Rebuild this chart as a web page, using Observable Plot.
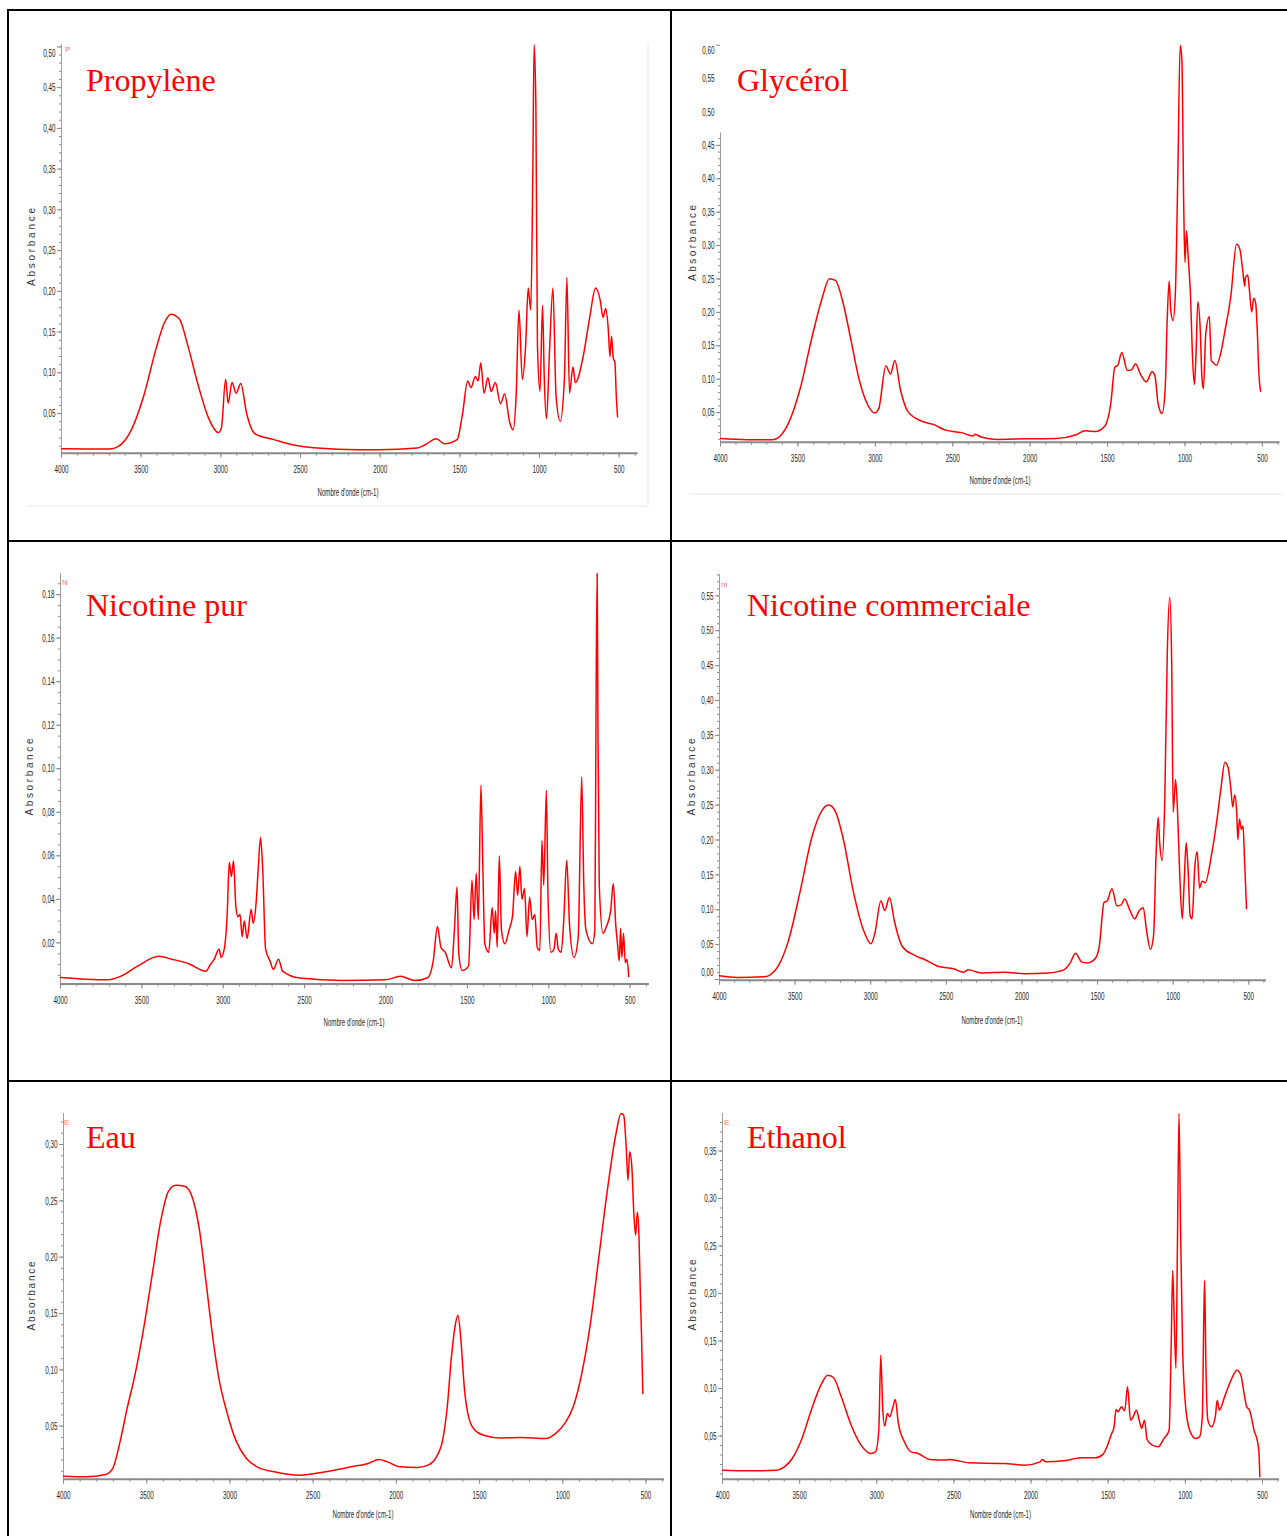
<!DOCTYPE html>
<html>
<head>
<meta charset="utf-8">
<script src="https://cdn.jsdelivr.net/npm/d3@7"></script>
<script src="https://cdn.jsdelivr.net/npm/@observablehq/plot@0.6"></script>
<style>
  html, body { margin: 0; padding: 0; background: #fff; }
  #page { position: relative; width: 1287px; height: 1536px; overflow: hidden; background: #fff; }
  #page svg.panel { position: absolute; }
  #overlay { position: absolute; left: 0; top: 0; pointer-events: none; }
</style>
</head>
<body>
<div id="page"></div>
<script>
// FTIR absorbance spectra: [wavenumber (cm-1), absorbance]
const propylene = [
  [4000,0.0068],[3850,0.0066],[3700,0.0065],[3643,0.0097],[3564,0.029],[3485,0.071],[3406,0.130],[3353,0.162],
  [3313,0.172],[3260,0.166],[3208,0.134],[3141,0.084],[3075,0.0435],[3015,0.0266],[2996,0.033],[2970,0.092],
  [2954,0.0625],[2930,0.088],[2904,0.075],[2875,0.087],[2838,0.050],[2785,0.025],[2666,0.018],[2534,0.011],
  [2270,0.0063],[2006,0.0055],[1768,0.0076],[1715,0.012],[1649,0.019],[1596,0.013],[1517,0.018],[1483,0.050],
  [1451,0.090],[1430,0.082],[1403,0.0955],[1385,0.090],[1369,0.112],[1348,0.075],[1324,0.094],[1303,0.077],
  [1277,0.088],[1245,0.062],[1219,0.074],[1187,0.039],[1166,0.030],[1147,0.071],[1129,0.177],[1108,0.092],
  [1087,0.134],[1071,0.204],[1055,0.177],[1042,0.346],[1034,0.503],[1023,0.430],[1013,0.134],[997,0.077],
  [981,0.183],[970,0.092],[956,0.0435],[937,0.128],[916,0.204],[896,0.071],[870,0.0406],[844,0.092],
  [828,0.217],[812,0.075],[790,0.107],[775,0.088],[724,0.122],[685,0.168],[648,0.204],[619,0.189],
  [601,0.168],[585,0.179],[569,0.155],[558,0.120],[548,0.145],[537,0.118],[527,0.113],[518,0.071],[510,0.046]
];
const glycerol = [
  [4000,0.0113],[3830,0.0095],[3665,0.0093],[3614,0.015],[3563,0.033],[3487,0.0845],[3410,0.162],[3347,0.2186],
  [3296,0.2505],[3258,0.248],[3207,0.213],[3156,0.157],[3105,0.100],[3054,0.064],[3004,0.0495],[2978,0.056],
  [2932,0.1196],[2902,0.1077],[2874,0.128],[2838,0.0845],[2788,0.051],[2699,0.037],[2622,0.032],[2546,0.0237],
  [2444,0.020],[2368,0.015],[2356,0.0175],[2317,0.0134],[2216,0.0098],[2038,0.0108],[1834,0.0113],[1707,0.0165],
  [1644,0.0227],[1580,0.0216],[1517,0.030],[1479,0.064],[1453,0.118],[1435,0.1206],[1408,0.140],[1372,0.113],
  [1346,0.114],[1319,0.123],[1288,0.1077],[1250,0.096],[1212,0.111],[1194,0.105],[1174,0.064],[1148,0.0485],
  [1128,0.0845],[1115,0.188],[1102,0.247],[1092,0.203],[1077,0.188],[1062,0.229],[1046,0.409],[1031,0.600],
  [1020,0.579],[1008,0.358],[1000,0.275],[990,0.322],[980,0.286],[965,0.229],[950,0.126],[939,0.092],
  [929,0.136],[917,0.216],[901,0.172],[891,0.105],[881,0.0856],[866,0.167],[843,0.194],[830,0.128],
  [818,0.125],[798,0.1206],[767,0.141],[742,0.172],[704,0.224],[667,0.302],[646,0.295],[628,0.265],
  [614,0.239],[610,0.252],[595,0.256],[584,0.234],[569,0.2005],[556,0.221],[543,0.213],[533,0.172],
  [523,0.110],[512,0.082]
];
const nicotinePure = [
  [4000,0.0041],[3843,0.0033],[3711,0.003],[3632,0.0046],[3527,0.0093],[3396,0.0138],[3317,0.0125],[3212,0.0104],
  [3107,0.007],[3081,0.0098],[3055,0.0125],[3026,0.0172],[3013,0.0133],[2992,0.018],[2976,0.033],[2963,0.057],
  [2950,0.0505],[2937,0.0576],[2923,0.037],[2910,0.032],[2897,0.033],[2884,0.0228],[2871,0.030],[2853,0.022],
  [2829,0.0354],[2816,0.029],[2798,0.0386],[2785,0.0544],[2771,0.0684],[2758,0.0544],[2740,0.0172],[2713,0.0117],
  [2692,0.0078],[2661,0.0125],[2635,0.007],[2530,0.0038],[2267,0.0027],[2004,0.003],[1913,0.0046],[1821,0.0027],
  [1742,0.0041],[1710,0.0117],[1684,0.0275],[1663,0.018],[1637,0.0157],[1598,0.0085],[1580,0.026],[1564,0.0457],
  [1553,0.0149],[1532,0.0073],[1493,0.0093],[1472,0.0489],[1459,0.0307],[1446,0.052],[1433,0.0307],[1417,0.0924],
  [1406,0.0576],[1393,0.0196],[1369,0.0157],[1348,0.0362],[1335,0.0244],[1327,0.0347],[1317,0.018],[1304,0.060],
  [1291,0.026],[1270,0.0196],[1244,0.026],[1223,0.0323],[1204,0.0528],[1191,0.0418],[1178,0.0552],[1165,0.040],
  [1149,0.045],[1134,0.0228],[1118,0.041],[1102,0.0307],[1086,0.033],[1071,0.018],[1055,0.0165],[1042,0.067],
  [1031,0.0465],[1015,0.090],[1005,0.0418],[987,0.0157],[968,0.0172],[955,0.0244],[942,0.0172],[924,0.0157],
  [908,0.0307],[890,0.058],[872,0.0275],[845,0.0133],[819,0.0228],[798,0.0962],[785,0.0465],[772,0.026],
  [732,0.0196],[717,0.026],[709,0.138],[703,0.1897],[698,0.1185],[690,0.0465],[667,0.0244],[646,0.0275],
  [620,0.0347],[604,0.0473],[588,0.0275],[578,0.0196],[567,0.0117],[559,0.0267],[551,0.0133],[541,0.0244],
  [530,0.0109],[520,0.0125],[509,0.0046]
];
const nicotineCommercial = [
  [4000,0.0054],[3883,0.003],[3701,0.004],[3662,0.007],[3610,0.020],[3545,0.055],[3467,0.126],[3388,0.205],
  [3323,0.242],[3277,0.250],[3232,0.240],[3180,0.200],[3115,0.126],[3050,0.072],[2998,0.0513],[2972,0.067],
  [2933,0.1125],[2907,0.099],[2876,0.1175],[2842,0.082],[2790,0.047],[2712,0.035],[2634,0.0276],[2556,0.019],
  [2452,0.0153],[2387,0.0104],[2356,0.0138],[2270,0.0094],[2113,0.0104],[1983,0.0084],[1827,0.0094],[1723,0.0138],
  [1684,0.0227],[1645,0.0375],[1606,0.0252],[1567,0.0237],[1515,0.030],[1489,0.047],[1457,0.1106],[1437,0.1125],
  [1405,0.130],[1372,0.1056],[1346,0.1066],[1320,0.1155],[1286,0.099],[1255,0.0869],[1224,0.099],[1198,0.103],
  [1177,0.072],[1151,0.0434],[1130,0.0622],[1112,0.1856],[1099,0.2325],[1089,0.1955],[1073,0.1708],[1055,0.2646],
  [1039,0.467],[1023,0.548],[1010,0.457],[1000,0.2399],[984,0.2868],[971,0.2399],[956,0.146],[940,0.0869],
  [927,0.141],[914,0.1955],[901,0.156],[888,0.0918],[875,0.0869],[857,0.161],[841,0.183],[826,0.1313],
  [808,0.141],[788,0.1387],[749,0.1757],[710,0.230],[684,0.2744],[658,0.3115],[637,0.304],[619,0.2744],
  [606,0.2473],[593,0.2646],[580,0.2399],[572,0.2004],[562,0.230],[549,0.2152],[538,0.220],[528,0.1708],
  [515,0.1017]
];
const water = [
  [4000,0.0056],[3864,0.005],[3748,0.0071],[3705,0.0124],[3658,0.0376],[3620,0.0642],[3569,0.0967],[3517,0.138],
  [3466,0.1855],[3415,0.2328],[3371,0.258],[3325,0.2639],[3273,0.263],[3235,0.2565],[3183,0.224],[3145,0.1796],
  [3106,0.1322],[3068,0.0938],[3016,0.0612],[2965,0.0376],[2901,0.0213],[2837,0.0139],[2734,0.0095],[2580,0.0065],
  [2426,0.0095],[2272,0.0139],[2169,0.0169],[2105,0.0204],[2054,0.0183],[1977,0.0139],[1874,0.0133],[1810,0.0154],
  [1759,0.0228],[1720,0.039],[1694,0.0672],[1669,0.1115],[1648,0.138],[1630,0.1485],[1612,0.1263],[1592,0.0849],
  [1566,0.0583],[1528,0.0464],[1476,0.042],[1373,0.0396],[1245,0.0399],[1104,0.039],[1039,0.0441],[988,0.0524],
  [937,0.0672],[886,0.0967],[834,0.1411],[783,0.2003],[732,0.2595],[680,0.3098],[650,0.3275],[634,0.326],
  [619,0.298],[608,0.2683],[598,0.2935],[585,0.280],[573,0.2388],[562,0.2195],[552,0.240],[542,0.218],
  [534,0.1678],[527,0.1322],[519,0.079]
];
const ethanol = [
  [4000,0.014],[3829,0.0133],[3651,0.014],[3599,0.0175],[3548,0.0263],[3485,0.0474],[3421,0.079],[3357,0.1053],
  [3319,0.114],[3281,0.1116],[3230,0.0912],[3166,0.0614],[3102,0.0404],[3038,0.0316],[3008,0.0333],[2987,0.0561],
  [2974,0.135],[2962,0.0807],[2949,0.0604],[2931,0.0737],[2916,0.0702],[2895,0.0807],[2880,0.0884],[2860,0.0632],
  [2821,0.0439],[2778,0.0333],[2732,0.0316],[2656,0.0253],[2554,0.0246],[2528,0.0253],[2400,0.0218],[2171,0.021],
  [2043,0.0193],[1941,0.0228],[1928,0.0253],[1903,0.0228],[1788,0.0239],[1673,0.027],[1584,0.027],[1533,0.0309],
  [1508,0.0386],[1482,0.0509],[1462,0.0596],[1449,0.0779],[1437,0.0754],[1414,0.0807],[1393,0.0765],[1375,0.1018],
  [1355,0.0667],[1340,0.0695],[1317,0.0772],[1299,0.0667],[1283,0.0579],[1265,0.0667],[1248,0.0463],[1215,0.0404],
  [1176,0.0386],[1138,0.0474],[1105,0.0561],[1092,0.1439],[1082,0.2239],[1072,0.1719],[1061,0.121],[1051,0.2561],
  [1041,0.3895],[1031,0.2667],[1018,0.1439],[998,0.0807],[972,0.0561],[934,0.0474],[908,0.0491],[890,0.0702],
  [880,0.1789],[875,0.214],[867,0.1263],[854,0.0667],[831,0.0596],[806,0.0702],[793,0.0877],[780,0.0772],
  [742,0.093],[704,0.1088],[666,0.1193],[640,0.114],[619,0.0947],[602,0.0807],[584,0.0772],[568,0.0667],
  [555,0.0561],[537,0.0474],[524,0.0351],[517,0.007]
];

// Axis tick values
const xMajorTicks = [4000, 3500, 3000, 2500, 2000, 1500, 1000, 500];
const xMinorTicks = d3.range(4000, 399, -100);
const yTicksPropylene = [0.05, 0.10, 0.15, 0.20, 0.25, 0.30, 0.35, 0.40, 0.45, 0.50];
const yTicksGlycerol = [0.05, 0.10, 0.15, 0.20, 0.25, 0.30, 0.35, 0.40, 0.45, 0.50, 0.55, 0.60];
const yTicksNicotinePure = [0.02, 0.04, 0.06, 0.08, 0.10, 0.12, 0.14, 0.16, 0.18];
const yTicksNicotineCommercial = [0.00, 0.05, 0.10, 0.15, 0.20, 0.25, 0.30, 0.35, 0.40, 0.45, 0.50, 0.55];
const yTicksWater = [0.05, 0.10, 0.15, 0.20, 0.25, 0.30];
const yTicksEthanol = [0.05, 0.10, 0.15, 0.20, 0.25, 0.30, 0.35];

const titles = ["Propylène", "Glycérol", "Nicotine pur", "Nicotine commerciale", "Eau", "Ethanol"];
const sampleTags = ["P", "", "N", "ni", "E", "E"];
const xLabel = "Nombre d'onde (cm-1)";
const yLabel = "Absorbance";

// Panel layout (pixel geometry of each spectrum frame)
const panels = [
  {data: propylene, ticks: yTicksPropylene, minorStep: 0.01, x0: 61.0, x500: 618.7, xEnd: 637.6,
   yZero: 453.9, pxPerUnit: 814.8, yBottom: 452.8, yTop: 44.1, shifted: {0.50: 6},
   title: [86, 90.5], tag: [65, 52], xLab: [348, 496], yLab: [31, 247, 78]},
  {data: glycerol, ticks: yTicksGlycerol, minorStep: 0.01, x0: 720.4, x500: 1262.3, xEnd: 1280,
   yZero: 445.6, pxPerUnit: 668, yBottom: 441.8, yTop: 44.1, lineTop: 0.4686, shifted: {0.60: 5},
   title: [737, 90.5], tag: [725, 52], xLab: [1000, 484], yLab: [692.8, 243, 76]},
  {data: nicotinePure, ticks: yTicksNicotinePure, minorStep: 0.005, x0: 59.8, x500: 629.5, xEnd: 648.7,
   yZero: 985.6, pxPerUnit: 2176.5, yBottom: 983.2, yTop: 572.7, shifted: {},
   title: [86, 616], tag: [62, 585], xLab: [354, 1026], yLab: [29.5, 777, 77]},
  {data: nicotineCommercial, ticks: yTicksNicotineCommercial, minorStep: 0.01, x0: 719.2, x500: 1248.5, xEnd: 1266.2,
   yZero: 979.4, pxPerUnit: 697.6, yBottom: 980.1, yTop: 574.4, shifted: {0: -7},
   title: [747, 616], tag: [721, 587], xLab: [992, 1024], yLab: [691.6, 777, 77]},
  {data: water, ticks: yTicksWater, minorStep: 0.01, x0: 62.8, x500: 645.3, xEnd: 663.7,
   yZero: 1482.3, pxPerUnit: 1126.6, yBottom: 1479, yTop: 1113.3, shifted: {},
   title: [86, 1148], tag: [64, 1125], xLab: [363, 1518], yLab: [31.8, 1296, 69]},
  {data: ethanol, ticks: yTicksEthanol, minorStep: 0.01, x0: 722.3, x500: 1262.3, xEnd: 1279.2,
   yZero: 1483.3, pxPerUnit: 950, yBottom: 1479, yTop: 1113.3, shifted: {},
   title: [747, 1148], tag: [724, 1125], xLab: [1000.5, 1518], yLab: [692.8, 1295, 71]}
];

const page = document.getElementById("page");
const fmt = v => v.toFixed(2).replace(".", ",");
const axisGrey = "#8a8a8a";
const labelInk = "#262626";

function drawPanel(p) {
  const pxPerCm = (p.x500 - p.x0) / 3500;
  const xLow = 500 - (p.xEnd - p.x500) / pxPerCm;
  const yMin = (p.yZero - p.yBottom) / p.pxPerUnit;
  const yMax = (p.yZero - p.yTop) / p.pxPerUnit;
  const lineTop = p.lineTop ?? yMax;

  const left = p.x0 - 50, top = p.yTop - 12;
  const width = p.xEnd + 14 - left;
  const height = p.yBottom + 36 - top;

  const minor = d3.range(Math.ceil(yMin / p.minorStep) * p.minorStep, lineTop + 1e-9, p.minorStep);
  const shiftedVals = Object.keys(p.shifted).map(Number);
  const isShifted = v => shiftedVals.some(s => Math.abs(s - v) < 1e-9);
  const tickedLabels = p.ticks.filter(v => v <= lineTop + 1e-9 || isShifted(v));
  const bareLabels = p.ticks.filter(v => v > lineTop + 1e-9 && !isShifted(v));

  const marks = [
    Plot.ruleY([yMin], {stroke: axisGrey, strokeWidth: 2}),
    Plot.ruleX([4000], {y1: yMin, y2: lineTop, stroke: "#9c9c9c", strokeWidth: 1}),
    Plot.axisX({ticks: xMinorTicks.filter(v => v >= xLow), tickSize: 3, tickFormat: () => "", stroke: axisGrey}),
    Plot.axisX({ticks: xMajorTicks, tickSize: 5, tickPadding: 7, tickFormat: d => String(d), stroke: axisGrey, fill: labelInk}),
    Plot.axisY({ticks: minor, tickSize: 2, tickFormat: () => "", stroke: axisGrey}),
    Plot.axisY({ticks: tickedLabels, tickSize: 4, tickPadding: 2,
      tickFormat: v => isShifted(v) ? "" : fmt(v), stroke: axisGrey, fill: labelInk}),
    Plot.axisY({ticks: bareLabels, tickSize: 0, tickPadding: 6, tickFormat: fmt, fill: labelInk})
  ];
  for (const v of shiftedVals) {
    marks.push(Plot.text([v], {y: d => d, frameAnchor: "left", dx: -6, dy: p.shifted[v],
      textAnchor: "end", text: d => fmt(d), fill: labelInk}));
  }
  marks.push(Plot.line(p.data, {x: d => d[0], y: d => d[1], stroke: "#ff0000",
    strokeWidth: 1.5, curve: "monotone-x"}));

  const svg = Plot.plot({
    width, height,
    marginLeft: p.x0 - left, marginRight: left + width - p.xEnd,
    marginTop: p.yTop - top, marginBottom: top + height - p.yBottom,
    x: {domain: [4000, xLow], label: null},
    y: {domain: [yMin, yMax], label: null},
    style: {background: "transparent", overflow: "visible", color: labelInk,
      fontFamily: "'Liberation Sans', Arial, sans-serif", fontSize: "11.5px"},
    marks
  });
  svg.classList.add("panel");
  svg.style.left = left + "px";
  svg.style.top = top + "px";
  page.appendChild(svg);

  // Narrow the tick labels like the instrument software's condensed font
  svg.querySelectorAll("text").forEach(t => {
    const w = t.getComputedTextLength();
    if (w > 0) {
      t.setAttribute("textLength", (w * 0.55).toFixed(1));
      t.setAttribute("lengthAdjust", "spacingAndGlyphs");
    }
  });
}

panels.forEach(drawPanel);

// Table frame, panel titles and axis labels
const overlay = d3.select(page).append("svg")
  .attr("id", "overlay").attr("width", 1287).attr("height", 1536);

// faint edges of the pasted instrument screenshots
overlay.append("path").attr("d", "M648,43V506H27").attr("fill", "none").attr("stroke", "#e6e6e6");
overlay.append("path").attr("d", "M689,494H1282").attr("fill", "none").attr("stroke", "#e6e6e6");

const borders = [
  [7, 9, 2, 1527], [7, 9, 1280, 2], [670, 9, 2, 1527], [7, 540, 1280, 2], [7, 1080, 1280, 2]
];
overlay.selectAll("rect.border").data(borders).join("rect")
  .attr("class", "border")
  .attr("x", d => d[0]).attr("y", d => d[1]).attr("width", d => d[2]).attr("height", d => d[3])
  .attr("fill", "#000");

panels.forEach((p, i) => {
  overlay.append("text")
    .attr("x", p.title[0]).attr("y", p.title[1])
    .attr("fill", "#ff0000")
    .attr("font-family", "'Liberation Serif', 'Times New Roman', serif")
    .attr("font-size", 32)
    .text(titles[i]);

  if (sampleTags[i]) {
    overlay.append("text")
      .attr("x", p.tag[0]).attr("y", p.tag[1])
      .attr("fill", "#ff3030").attr("opacity", 0.7)
      .attr("font-family", "'Liberation Sans', Arial, sans-serif")
      .attr("font-size", 8)
      .text(sampleTags[i]);
  }

  overlay.append("text")
    .attr("x", p.xLab[0]).attr("y", p.xLab[1])
    .attr("text-anchor", "middle")
    .attr("fill", labelInk)
    .attr("font-family", "'Liberation Sans', Arial, sans-serif")
    .attr("font-size", 11.5)
    .attr("textLength", 61).attr("lengthAdjust", "spacingAndGlyphs")
    .text(xLabel);

  overlay.append("text")
    .attr("transform", `translate(${p.yLab[0]},${p.yLab[1]}) rotate(-90)`)
    .attr("text-anchor", "middle")
    .attr("dominant-baseline", "central")
    .attr("fill", "#333")
    .attr("font-family", "'Liberation Sans', Arial, sans-serif")
    .attr("font-size", 10)
    .attr("textLength", p.yLab[2]).attr("lengthAdjust", "spacing")
    .text(yLabel);
});
</script>
</body>
</html>
